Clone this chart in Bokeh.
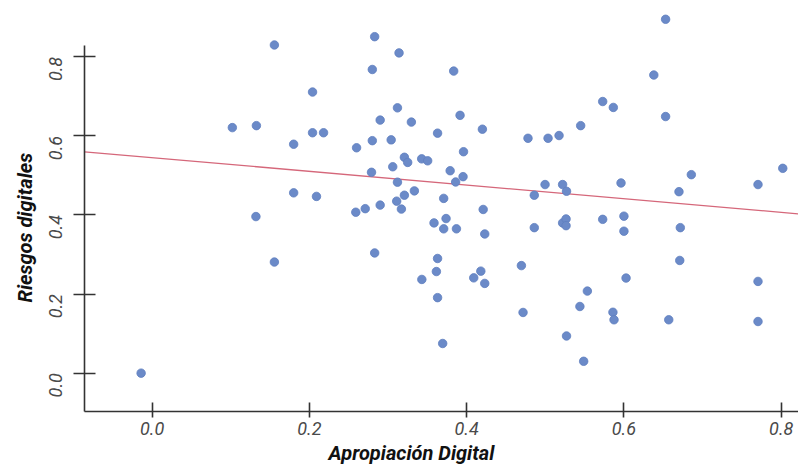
from bokeh.plotting import figure
from bokeh.models import Range1d, FixedTicker, PrintfTickFormatter, ColumnDataSource, Title
from bokeh.embed import file_html
from bokeh.resources import INLINE
from math import pi

apropiacion = [
    -0.014, 0.102, 0.1326, 0.132, 0.1555, 0.1555, 0.180, 0.180, 0.204, 0.204,
    0.218, 0.209, 0.259, 0.271, 0.290, 0.311, 0.317, 0.279, 0.306, 0.312,
    0.260, 0.280, 0.304, 0.290, 0.312, 0.280, 0.283, 0.314, 0.283, 0.3835,
    0.3297, 0.3916, 0.420, 0.363, 0.478, 0.5035, 0.5175, 0.396, 0.3208, 0.325,
    0.3428, 0.3504, 0.379, 0.3954, 0.386, 0.4997, 0.522, 0.527, 0.486, 0.3335,
    0.3208, 0.3708, 0.545, 0.573, 0.5865, 0.638, 0.653, 0.653, 0.5963, 0.6857,
    0.802, 0.7705, 0.670, 0.421, 0.3585, 0.3738, 0.3708, 0.387, 0.423, 0.486,
    0.522, 0.5264, 0.5264, 0.573, 0.600, 0.600, 0.6717, 0.363, 0.3615, 0.343,
    0.418, 0.409, 0.423, 0.363, 0.4696, 0.4717, 0.3695, 0.527, 0.671, 0.6027,
    0.5535, 0.544, 0.586, 0.5874, 0.657, 0.7705, 0.7705, 0.5488,
]
riesgos = [
    0.000, 0.621, 0.626, 0.396, 0.830, 0.281, 0.579, 0.456, 0.711, 0.608,
    0.608, 0.447, 0.407, 0.416, 0.425, 0.435, 0.415, 0.508, 0.522, 0.483,
    0.570, 0.588, 0.590, 0.640, 0.671, 0.768, 0.851, 0.810, 0.304, 0.764,
    0.635, 0.652, 0.617, 0.607, 0.594, 0.594, 0.601, 0.560, 0.546, 0.533,
    0.542, 0.537, 0.512, 0.497, 0.4835, 0.477, 0.477, 0.460, 0.450, 0.461,
    0.450, 0.442, 0.626, 0.687, 0.672, 0.754, 0.895, 0.649, 0.481, 0.502,
    0.518, 0.477, 0.459, 0.414, 0.380, 0.391, 0.365, 0.365, 0.352, 0.368,
    0.380, 0.390, 0.373, 0.389, 0.397, 0.359, 0.368, 0.290, 0.257, 0.237,
    0.258, 0.241, 0.227, 0.191, 0.272, 0.1535, 0.075, 0.094, 0.285, 0.2405,
    0.2076, 0.1686, 0.154, 0.135, 0.135, 0.232, 0.1306, 0.030,
]
tick_values = [0.0, 0.2, 0.4, 0.6, 0.8]
x_title = "Apropiación Digital"
y_title = "Riesgos digitales"

# fitted regression line as drawn in the reference (abline of lm)
fit_intercept = 0.545
fit_slope = -0.173

x_start, x_end = -0.086, 0.822
y_start, y_end = -0.097, 0.9425

p = figure(width=798, height=465, output_backend="svg", toolbar_location=None,
           x_range=Range1d(x_start, x_end), y_range=Range1d(y_start, y_end),
           min_border_left=84, min_border_right=0, min_border_top=0,
           min_border_bottom=54, outline_line_color=None)
p.grid.visible = False
p.background_fill_color = "white"
p.border_fill_color = "white"

xs = [x_start, x_end]
p.line(xs, [fit_intercept + fit_slope * v for v in xs], line_color="#d5677a", line_width=1.3)

src = ColumnDataSource(dict(x=apropiacion, y=riesgos))
p.scatter("x", "y", source=src, size=8.5, fill_color="#6b8ac8",
          line_color="#5f7fbf", line_width=0.8)

for ax in (p.xaxis[0], p.yaxis[0]):
    ax.ticker = FixedTicker(ticks=tick_values)
    ax.formatter = PrintfTickFormatter(format="%.1f")
    ax.axis_line_color = "#333333"
    ax.axis_line_width = 1.6
    ax.major_tick_line_color = "#333333"
    ax.major_tick_line_width = 1.6
    ax.minor_tick_line_color = None
    ax.major_label_text_font = "Roboto"
    ax.major_label_text_font_style = "italic"
    ax.major_label_text_font_size = "18px"
    ax.major_label_text_color = "#4a4a4a"

p.xaxis.major_tick_in = 9
p.xaxis.major_tick_out = 6
p.xaxis.major_label_standoff = 4

p.yaxis.bounds = (y_start, 0.829)
p.yaxis.major_tick_in = 11
p.yaxis.major_tick_out = 11
p.yaxis.major_label_orientation = pi / 2
p.yaxis.major_label_standoff = 18

# axis titles (placed off-centre as in the reference)
title_style = dict(text_font="Roboto", text_font_style="bold italic",
                   text_font_size="20px", text_color="#111111", align="left")
p.add_layout(Title(text=x_title, offset=244, standoff=2, **title_style), "below")
p.add_layout(Title(text=y_title, offset=109, standoff=6, **title_style), "left")

open("out.html", "w").write(file_html(p, INLINE))
